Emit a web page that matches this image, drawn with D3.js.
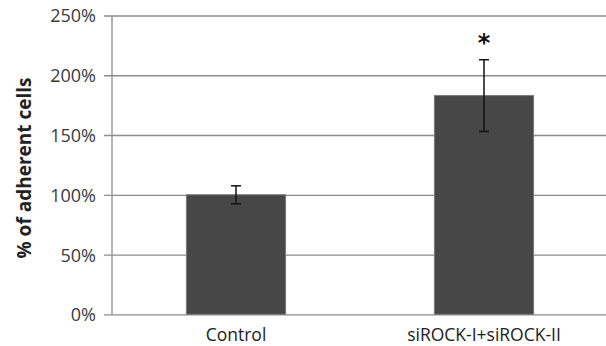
<!DOCTYPE html>
<html>
<head>
<meta charset="utf-8">
<script src="https://cdn.jsdelivr.net/npm/d3@7"></script>
<style>
  html, body { margin: 0; padding: 0; background: #fff; }
  svg { display: block; }
</style>
</head>
<body>
<svg id="chart" width="606" height="346"></svg>
<script>
// Adherent cell counts relative to control
const categories = ["Control", "siROCK-I+siROCK-II"];
const values = [100, 183];
const errors = [7.5, 30];
const marks = ["", "*"];
const yTicks = [0, 50, 100, 150, 200, 250];

const svg = d3.select("#chart");
const plotLeft = 112, plotRight = 608, plotTop = 15.5, plotBottom = 314.3;
const font = "'Open Sans', sans-serif";

const x = d3.scaleBand().domain(categories).range([plotLeft, plotRight])
  .paddingInner(0.6).paddingOuter(0.3);
const y = d3.scaleLinear().domain([0, 250]).range([plotBottom, plotTop]);

// horizontal gridlines with tick stubs
const yAxis = d3.axisLeft(y).tickValues(yTicks)
  .tickSize(-(plotRight - plotLeft)).tickFormat(d => d + "%").tickPadding(16);
const gy = svg.append("g").attr("transform", `translate(${plotLeft},0)`).call(yAxis);
gy.select(".domain").remove();
gy.selectAll(".tick line").attr("stroke", "#8c8c8c").attr("stroke-width", 1.3)
  .attr("x1", -8);
gy.selectAll(".tick text").attr("font-family", font).attr("font-size", 18)
  .attr("fill", "#3a3a3a").attr("dy", "0.36em");

// vertical axis line
svg.append("line").attr("x1", plotLeft).attr("x2", plotLeft)
  .attr("y1", y(250)).attr("y2", y(0))
  .attr("stroke", "#8c8c8c").attr("stroke-width", 1.3);

// bars
svg.selectAll("rect.bar").data(categories).join("rect")
  .attr("class", "bar")
  .attr("x", d => x(d))
  .attr("width", x.bandwidth())
  .attr("y", (d, i) => y(values[i]))
  .attr("height", (d, i) => y(0) - y(values[i]))
  .attr("fill", "#474747")
  .attr("stroke", "#7a7a7a").attr("stroke-width", 1);

// error bars
const cap = 10;
const cx = d => x(d) + x.bandwidth() / 2;
const eb = svg.selectAll("g.err").data(categories).join("g").attr("class", "err")
  .attr("stroke", "#111").attr("stroke-width", 1.5);
eb.append("line")
  .attr("x1", cx).attr("x2", cx)
  .attr("y1", (d, i) => y(values[i] + errors[i])).attr("y2", (d, i) => y(values[i] - errors[i]));
eb.append("line")
  .attr("x1", d => cx(d) - cap / 2).attr("x2", d => cx(d) + cap / 2)
  .attr("y1", (d, i) => y(values[i] + errors[i])).attr("y2", (d, i) => y(values[i] + errors[i]));
eb.append("line")
  .attr("x1", d => cx(d) - cap / 2).attr("x2", d => cx(d) + cap / 2)
  .attr("y1", (d, i) => y(values[i] - errors[i])).attr("y2", (d, i) => y(values[i] - errors[i]));

// significance marks
svg.selectAll("text.sig").data(categories).join("text")
  .attr("class", "sig")
  .attr("x", cx)
  .attr("y", (d, i) => y(values[i] + errors[i]) - 9)
  .attr("text-anchor", "middle")
  .attr("font-family", "'DejaVu Sans', sans-serif").attr("font-weight", "bold")
  .attr("font-size", 24).attr("fill", "#111")
  .text((d, i) => marks[i]);

// category labels
svg.selectAll("text.cat").data(categories).join("text")
  .attr("class", "cat")
  .attr("x", cx)
  .attr("y", 341)
  .attr("text-anchor", "middle")
  .attr("font-family", font).attr("font-size", 17.5).attr("fill", "#222")
  .text(d => d);

// axis title
svg.append("text")
  .attr("transform", `translate(31,168) rotate(-90)`)
  .attr("text-anchor", "middle")
  .attr("font-family", font).attr("font-weight", "bold")
  .attr("font-size", 19).attr("fill", "#222")
  .text("% of adherent cells");
</script>
</body>
</html>
